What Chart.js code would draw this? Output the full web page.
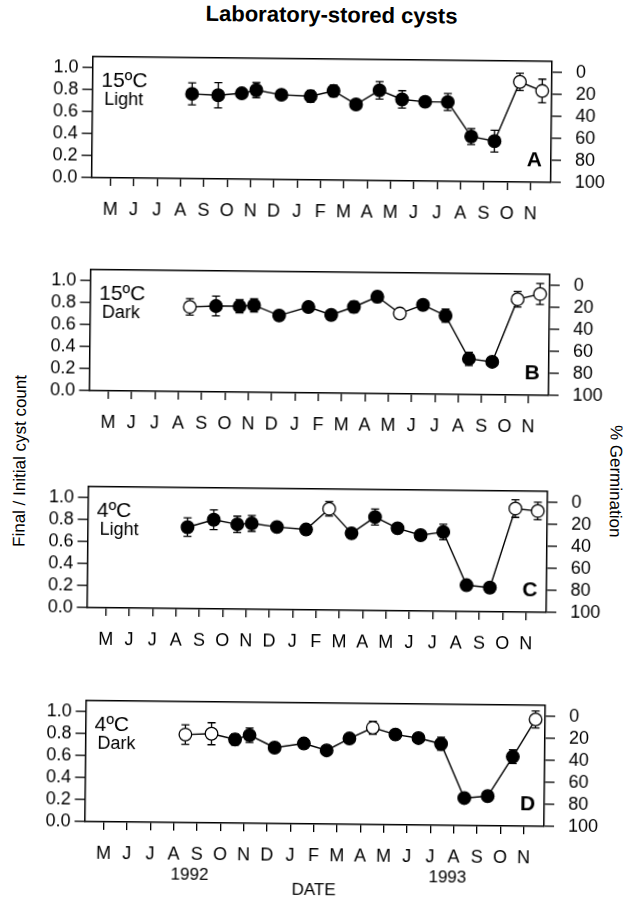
<!DOCTYPE html>
<html>
<head>
<meta charset="utf-8">
<script src="https://cdn.jsdelivr.net/npm/chart.js@4.4.1/dist/chart.umd.min.js"></script>
<style>
html, body { margin: 0; padding: 0; background: #fff; }
#fig { position: relative; width: 623px; height: 898px; transform: rotate(0.6deg); transform-origin: 311.5px 449px;
       font-family: 'Liberation Sans', Arial, sans-serif; color: #000; }
#fig canvas { position: absolute; left: 0; }
.txt { position: absolute; white-space: nowrap; line-height: 1; }
</style>
</head>
<body>
<div id="fig">
  <div class="txt" style="left:327px;top:15px;transform:translate(-50%,-50%);font-weight:bold;font-size:22px;">Laboratory-stored cysts</div>
  <div class="txt" style="left:20px;top:464px;transform:translate(-50%,-50%) rotate(-90deg);font-size:17px;">Final / Initial cyst count</div>
  <div class="txt" style="left:616px;top:478px;transform:translate(-50%,-50%) rotate(90deg);font-size:17px;">% Germination</div>
  <canvas id="pA" width="623" height="220" style="top:34px"></canvas>
  <canvas id="pB" width="623" height="220" style="top:247px"></canvas>
  <canvas id="pC" width="623" height="220" style="top:464px"></canvas>
  <canvas id="pD" width="623" height="220" style="top:678px"></canvas>
</div>
<script>
const FONT = "'Liberation Sans', Arial, sans-serif";

// month ticks, May 1992 (0) .. Nov 1993 (18)
const months = ['M', 'J', 'J', 'A', 'S', 'O', 'N', 'D', 'J', 'F', 'M', 'A', 'M', 'J', 'J', 'A', 'S', 'O', 'N'];
const yearLabels = ['1992', '1993'];
const yearPositions = [3.7, 14.75];
const countTicks = [0, 0.2, 0.4, 0.6, 0.8, 1.0];
const germTicks = [0, 20, 40, 60, 80, 100];

// sampling dates (month index)
const sampleDates = [3.46, 4.58, 5.59, 6.21, 7.29, 8.54, 9.52, 10.49, 11.49, 12.46, 13.45, 14.42, 15.44, 16.44, 17.50, 18.46];

// A: 15ºC light
const countA = [0.77, 0.76, 0.78, 0.81, 0.77, 0.76, 0.81, 0.69, 0.82, 0.74, 0.72, 0.72, 0.41, 0.37, 0.91, 0.83];
const errA   = [0.10, 0.115, 0.03, 0.068, 0.02, 0.054, 0.054, 0.02, 0.079, 0.079, 0.02, 0.077, 0.073, 0.099, 0.079, 0.107];
const openA  = [0, 0, 0, 0, 0, 0, 0, 0, 0, 0, 0, 0, 0, 0, 1, 1];

// B: 15ºC dark
const countB = [0.77, 0.78, 0.78, 0.79, 0.70, 0.78, 0.71, 0.785, 0.88, 0.73, 0.81, 0.715, 0.325, 0.30, 0.87, 0.92];
const errB   = [0.075, 0.09, 0.06, 0.06, 0.02, 0.03, 0.03, 0.05, 0.05, 0.02, 0.03, 0.06, 0.06, 0.02, 0.07, 0.095];
const openB  = [1, 0, 0, 0, 0, 0, 0, 0, 0, 1, 0, 0, 0, 0, 1, 1];

// C: 4ºC light
const countC = [0.74, 0.81, 0.77, 0.78, 0.75, 0.73, 0.92, 0.70, 0.85, 0.75, 0.69, 0.72, 0.24, 0.22, 0.94, 0.92];
const errC   = [0.084, 0.09, 0.074, 0.072, 0.02, 0.02, 0.065, 0.03, 0.072, 0.02, 0.02, 0.07, 0.02, 0.02, 0.08, 0.08];
const openC  = [0, 0, 0, 0, 0, 0, 1, 0, 0, 0, 0, 0, 0, 0, 1, 1];

// D: 4ºC dark
const countD = [0.80, 0.81, 0.76, 0.80, 0.69, 0.73, 0.67, 0.78, 0.88, 0.82, 0.79, 0.74, 0.25, 0.27, 0.63, 0.97];
const errD   = [0.089, 0.10, 0.05, 0.066, 0.02, 0.02, 0.02, 0.03, 0.059, 0.02, 0.02, 0.059, 0.03, 0.03, 0.062, 0.078];
const openD  = [1, 1, 0, 0, 0, 0, 0, 0, 1, 0, 0, 0, 0, 0, 0, 1];

// error bars, frame top, panel texts
function panelPlugin(info) {
  return {
    id: 'panel',
    beforeDatasetsDraw(chart) {
      const ctx = chart.ctx, xs = chart.scales.x, ys = chart.scales.y;
      ctx.save();
      ctx.strokeStyle = '#000';
      ctx.lineWidth = 1.3;
      info.counts.forEach((v, i) => {
        const x = xs.getPixelForValue(sampleDates[i]);
        const t = ys.getPixelForValue(v + info.errs[i]);
        const b = ys.getPixelForValue(v - info.errs[i]);
        ctx.beginPath();
        ctx.moveTo(x, t); ctx.lineTo(x, b);
        ctx.moveTo(x - 4, t); ctx.lineTo(x + 4, t);
        ctx.moveTo(x - 4, b); ctx.lineTo(x + 4, b);
        ctx.stroke();
      });
      ctx.restore();
    },
    afterDraw(chart) {
      const ctx = chart.ctx, a = chart.chartArea, xs = chart.scales.x;
      ctx.save();
      ctx.strokeStyle = '#000';
      ctx.lineWidth = 1.5;
      ctx.beginPath();
      ctx.moveTo(a.left, a.top);
      ctx.lineTo(a.right, a.top);
      ctx.stroke();
      ctx.fillStyle = '#000';
      ctx.textBaseline = 'alphabetic';
      ctx.textAlign = 'left';
      ctx.font = '21px ' + FONT;
      ctx.fillText(info.temp, a.left + 9, a.top + 30);
      ctx.font = '18px ' + FONT;
      ctx.fillText(info.light, a.left + 12, a.top + 48);
      ctx.font = 'bold 21px ' + FONT;
      ctx.textAlign = 'right';
      ctx.fillText(info.letter, a.right - 9, a.bottom - 16);
      if (info.last) {
        ctx.font = '17px ' + FONT;
        ctx.textAlign = 'center';
        ctx.textBaseline = 'middle';
        yearLabels.forEach((y, i) => ctx.fillText(y, xs.getPixelForValue(yearPositions[i]), a.bottom + 52.5));
        ctx.fillText('DATE', (a.left + a.right) / 2, a.bottom + 66);
      }
      ctx.restore();
    }
  };
}

function makePanel(id, counts, errs, open, temp, light, letter, last) {
  return new Chart(document.getElementById(id), {
    type: 'line',
    data: {
      datasets: [{
        data: sampleDates.map((d, i) => ({ x: d, y: counts[i] })),
        borderColor: '#000',
        borderWidth: 1.4,
        pointRadius: 6.3,
        pointHoverRadius: 6.3,
        pointBorderColor: '#000',
        pointBorderWidth: 1.3,
        pointBackgroundColor: open.map(o => o ? '#fff' : '#000'),
        tension: 0,
        fill: false
      }]
    },
    options: {
      responsive: false,
      animation: false,
      devicePixelRatio: 1,
      layout: { padding: { top: 15, bottom: 0, left: 0, right: 0 } },
      plugins: { legend: { display: false }, tooltip: { enabled: false } },
      scales: {
        x: {
          type: 'linear', min: -0.82, max: 18.87,
          afterBuildTicks: s => { s.ticks = months.map((m, i) => ({ value: i })); },
          afterFit: s => { s.height = 74; },
          ticks: { callback: (v, i) => months[i], font: { size: 18, family: FONT }, color: '#000', padding: 13, maxRotation: 0, autoSkip: false },
          grid: { drawOnChartArea: false, drawTicks: true, tickLength: 8, color: '#000', lineWidth: 1.3 },
          border: { color: '#000', width: 1.5 }
        },
        y: {
          position: 'left', min: 0, max: 1.1,
          afterBuildTicks: s => { s.ticks = countTicks.map(v => ({ value: v })); },
          afterFit: s => { s.width = 88.5; },
          ticks: { callback: v => v.toFixed(1), font: { size: 18, family: FONT }, color: '#000', padding: 4, autoSkip: false },
          grid: { drawOnChartArea: false, drawTicks: true, tickLength: 10, color: '#000', lineWidth: 1.3 },
          border: { color: '#000', width: 1.5 }
        },
        y2: {
          position: 'right', min: 0, max: 1.1,
          afterBuildTicks: s => { s.ticks = germTicks.map(p => ({ value: 1 - p / 100 })); },
          afterFit: s => { s.width = 75; },
          ticks: { callback: v => String(Math.round((1 - v) * 100)), font: { size: 18, family: FONT }, color: '#000', padding: 14, autoSkip: false },
          grid: { drawOnChartArea: false, drawTicks: true, tickLength: 10, color: '#000', lineWidth: 1.3 },
          border: { color: '#000', width: 1.5 }
        }
      }
    },
    plugins: [panelPlugin({ counts, errs, temp, light, letter, last })]
  });
}

makePanel('pA', countA, errA, openA, '15ºC', 'Light', 'A', false);
makePanel('pB', countB, errB, openB, '15ºC', 'Dark', 'B', false);
makePanel('pC', countC, errC, openC, '4ºC', 'Light', 'C', false);
makePanel('pD', countD, errD, openD, '4ºC', 'Dark', 'D', true);
</script>
</body>
</html>
